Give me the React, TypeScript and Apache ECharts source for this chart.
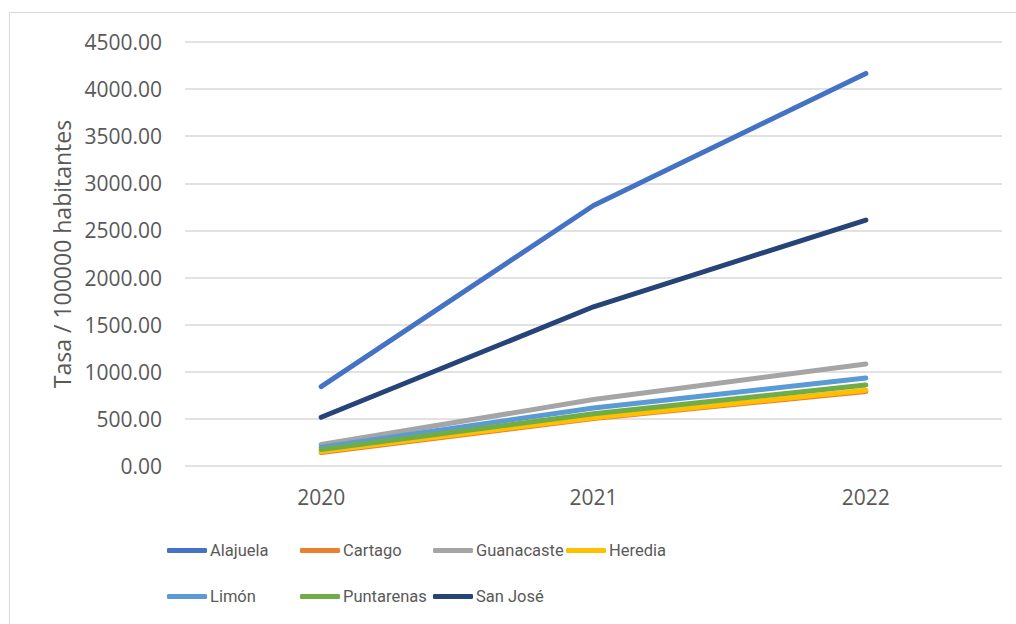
import React, { useEffect, useRef } from "react";
import * as echarts from "echarts";

const years = ["2020", "2021", "2022"];
const alajuela = [843, 2765, 4167];
const cartago = [143, 505, 790];
const guanacaste = [228, 705, 1083];
const heredia = [154, 512, 805];
const limon = [200, 615, 934];
const puntarenas = [175, 555, 860];
const sanJose = [517, 1690, 2610];

const seriesDefs = [
  { name: "Alajuela", data: alajuela, color: "#4472C4" },
  { name: "Cartago", data: cartago, color: "#ED7D31" },
  { name: "Guanacaste", data: guanacaste, color: "#A5A5A5" },
  { name: "Heredia", data: heredia, color: "#FFC000" },
  { name: "Limón", data: limon, color: "#5B9BD5" },
  { name: "Puntarenas", data: puntarenas, color: "#70AD47" },
  { name: "San José", data: sanJose, color: "#264478" },
];

const FONT = "'Open Sans', 'Noto Sans', sans-serif";
const LEG_FONT = "Roboto, 'Open Sans', sans-serif";
const TXT = "#595959";
const FS = 21;

export default function App() {
  const ref = useRef<HTMLDivElement>(null);
  useEffect(() => {
    document.body.style.margin = "0";
    const chart = echarts.init(ref.current!, null, { renderer: "svg" });
    const legends = seriesDefs.map((s, i) => ({
      left: 167 + (i % 4) * 133,
      top: i < 4 ? 542 : 588,
      padding: 0,
      icon: "roundRect",
      itemWidth: 40,
      itemHeight: 5,
      data: [s.name],
      textStyle: { fontFamily: LEG_FONT, fontSize: 16.5, color: TXT, padding: [0, 0, 0, -2] },
    }));
    chart.setOption({
      animation: false,
      textStyle: { fontFamily: FONT },
      grid: { left: 185, right: 14, top: 42, bottom: 158, containLabel: false },
      graphic: [
        {
          type: "rect",
          shape: { x: 9.5, y: 12.5, width: 1100, height: 800 },
          style: { fill: "none", stroke: "#D9D9D9", lineWidth: 1 },
          silent: true,
        },
      ],
      legend: legends,
      xAxis: {
        type: "category",
        data: years,
        boundaryGap: true,
        axisLine: { show: false },
        axisTick: { show: false },
        axisLabel: { fontSize: FS, color: TXT, margin: 20, fontFamily: FONT },
        splitLine: { show: false },
      },
      yAxis: {
        type: "value",
        min: 0,
        max: 4500,
        interval: 500,
        name: "Tasa / 100000 habitantes",
        nameLocation: "middle",
        nameGap: 108,
        nameTextStyle: { fontSize: 23, color: TXT, fontFamily: FONT },
        axisLine: { show: false },
        axisTick: { show: false },
        axisLabel: {
          fontSize: FS,
          color: TXT,
          margin: 23,
          fontFamily: FONT,
          formatter: (v: number) => v.toFixed(2),
        },
        splitLine: { lineStyle: { color: "#D9D9D9", width: 1.5 } },
      },
      series: seriesDefs.map((s) => ({
        name: s.name,
        type: "line",
        data: s.data,
        symbol: "none",
        showSymbol: false,
        itemStyle: { color: s.color },
        lineStyle: { color: s.color, width: 5, cap: "round", join: "round" },
      })),
    });
    return () => chart.dispose();
  }, []);
  return <div ref={ref} style={{ width: 1016, height: 624 }} />;
}
